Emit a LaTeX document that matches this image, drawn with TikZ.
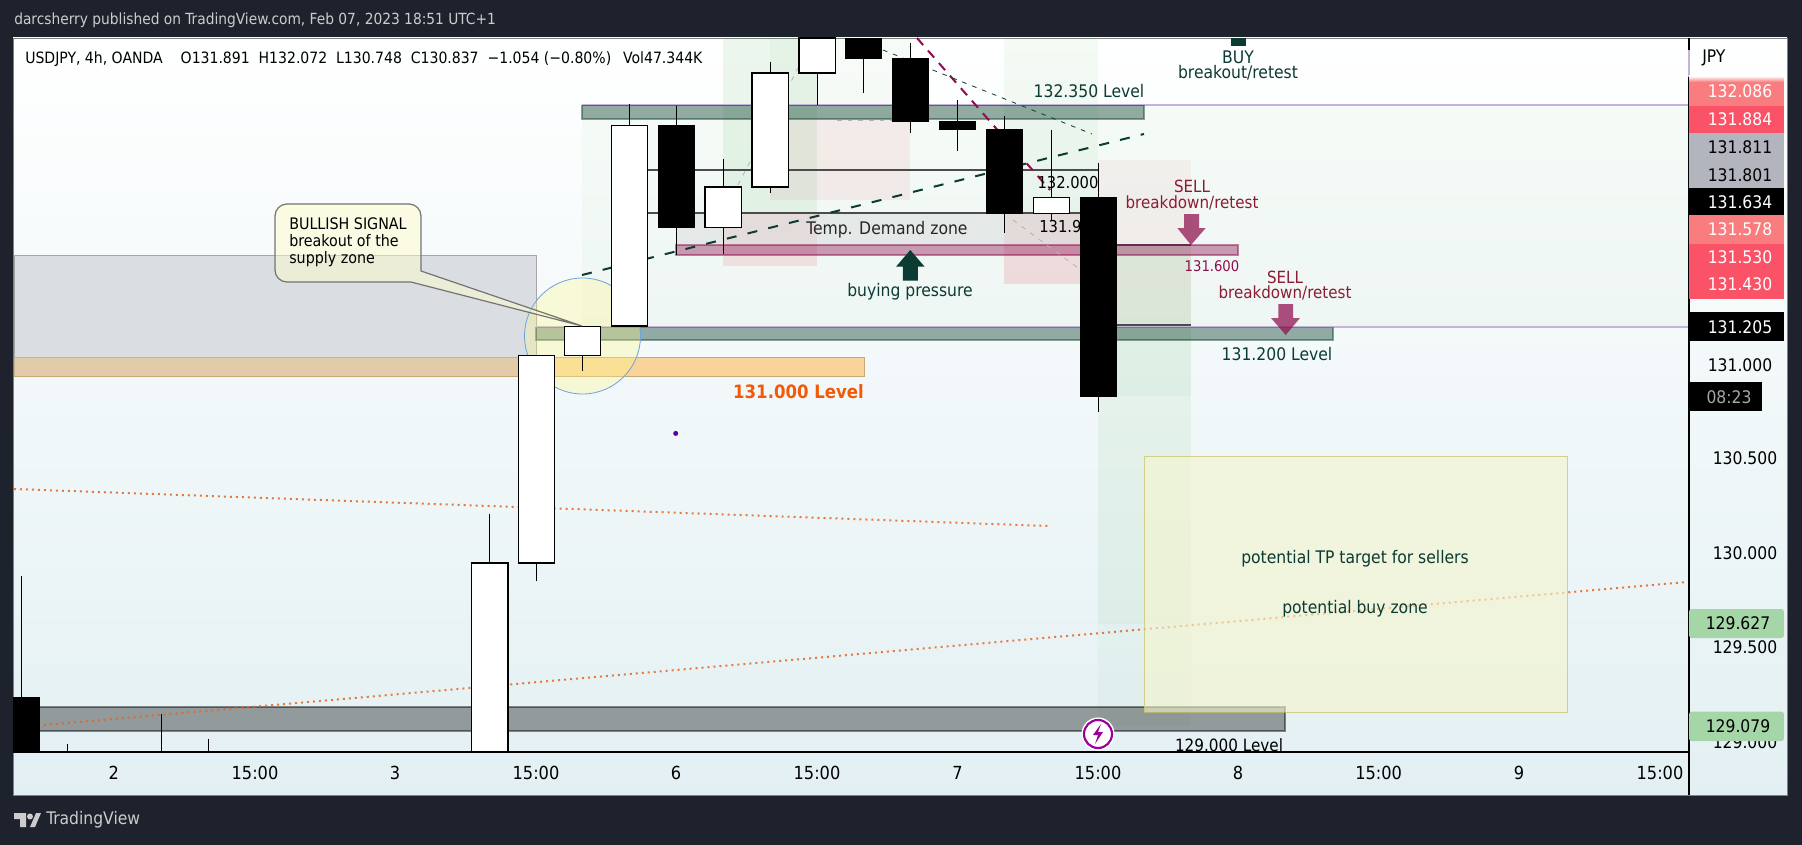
\documentclass[tikz,border=0pt]{standalone}
\usepackage[dvipsnames]{xcolor}
\usepackage{fontspec}
\setmainfont{DejaVu Sans Condensed}
\definecolor{frame}{HTML}{1E222D}
\definecolor{chartbg}{HTML}{E3F0F3}
\definecolor{teal}{HTML}{0B3B33}
\definecolor{wine}{HTML}{8E0E4E}
\definecolor{sellred}{HTML}{8C1C33}
\definecolor{tagred}{HTML}{FA5266}
\definecolor{tagrose}{HTML}{F97C7F}
\definecolor{taggrey}{HTML}{B2B5BE}
\definecolor{taggreen}{HTML}{A5D6A7}
\definecolor{bandteal}{HTML}{1A4A3A}
\definecolor{levelline}{HTML}{C5B3DE}
\definecolor{supply}{HTML}{DADEE3}
\definecolor{sand}{HTML}{F8D49A}
\definecolor{sandline}{HTML}{C9A876}
\definecolor{tpbox}{HTML}{F5F5CC}
\definecolor{dots}{HTML}{E8641E}
\definecolor{levelorange}{HTML}{F05A0A}
\definecolor{longgreen}{HTML}{4CAF50}
\definecolor{shortred}{HTML}{E04050}

\begin{document}
\begin{tikzpicture}[x=0.75pt,y=-0.75pt,
    price node/.style={inner sep=0pt,font=\fontsize{13}{15}\selectfont},
    time node/.style={inner sep=0pt,font=\fontsize{13.5}{15}\selectfont},
    level node/.style={inner sep=0pt,text=teal,font=\fontsize{13}{15}\selectfont},
    sell node/.style={inner sep=0pt,text=sellred,font=\fontsize{12.6}{15}\selectfont},
    buy zone/.style={fill=longgreen,opacity=0.1},
    risk zone/.style={fill=shortred,opacity=0.08},
    band/.style={fill=bandteal,fill opacity=0.45,draw=bandteal,draw opacity=0.5,line width=0.8pt},
    white candle/.style={fill=white,draw=black,line width=1.1pt},
    black candle/.style={fill=black},
    wick/.style={draw=black,line width=1pt},
    sell arrow/.style={fill=wine,opacity=0.72},
    dotted level/.style={draw=dots,opacity=0.85,line width=1.5pt,dash pattern=on 1.5pt off 3pt},
    trend/.style={draw=teal,line width=1.5pt,dash pattern=on 7.5pt off 8.5pt},
    thin trend/.style={line width=0.6pt,dash pattern=on 3.5pt off 4.5pt}]
    \useasboundingbox (0,0) rectangle (1802,845);
    \fill[frame] (0,0) rectangle (1802,845);
    \shade[top color=white,bottom color=chartbg] (13,38) rectangle (1787,795);
    \draw[gray,line width=0.7pt] (13,38) rectangle (1787,795);

    % position boxes
    \fill[longgreen,opacity=0.035] (582,105) rectangle (1689,327);
    \fill[buy zone] (723,38) rectangle (817,213);
    \fill[longgreen,opacity=0.04] (770,38) rectangle (910,119);
    \fill[risk zone] (770,119) rectangle (910,200);
    \fill[risk zone,opacity=0.13] (723,213) rectangle (817,266);
    \fill[buy zone,opacity=0.06] (1004,38) rectangle (1098,213);
    \fill[risk zone,opacity=0.15] (1004,213) rectangle (1098,284);
    \fill[risk zone,opacity=0.06] (1098,160) rectangle (1191,245);
    \fill[buy zone,opacity=0.12] (1098,245) rectangle (1191,396);
    \fill[risk zone,opacity=0.05] (1098,255) rectangle (1191,325);
    \fill[buy zone,opacity=0.08] (1098,396) rectangle (1191,624);
    \fill[buy zone,opacity=0.04] (1098,624) rectangle (1191,726);

    % zones
    \draw[fill=supply,draw=black!35] (14,255) rectangle (536,357);
    \draw[fill=sand,draw=sandline] (14,357) rectangle (864,376);
    \fill[black!25,opacity=0.4] (14,357) rectangle (536,376);
    \fill[black!15,opacity=0.5] (676,213) rectangle (1098,245);
    \draw[black!70,line width=2pt] (647,170) -- (1098,170);
    \draw[black!70,line width=2pt] (647,213) -- (1098,213);
    \draw[black!70,line width=1pt] (1117,245) -- (1191,245);
    \draw[black!70,line width=1pt] (1117,325) -- (1191,325);
    \draw[levelline,line width=1.2pt] (582,105) -- (1689,105);
    \draw[levelline,line width=1.2pt] (536,327) -- (1689,327);
    \draw[band] (536,327.5) rectangle (1333,340);
    \draw[band] (582,105.5) rectangle (1144,119);
    \path[fill=wine,fill opacity=0.4,draw=wine,draw opacity=0.5,line width=0.8pt] (676,245) rectangle (1238,255);
    \draw[fill=black,fill opacity=0.36,draw=black,draw opacity=0.45,line width=0.8pt] (14,707) rectangle (1285,731);
    \draw[fill=yellow!45!white,fill opacity=0.33,draw=cyan!60!blue!60,line width=0.6pt] (582.5,336) circle (58);

    % trend lines
    \draw[dotted level] (14,489) -- (1048,526);
    \draw[dotted level] (44,725) -- (1687,582);
    \draw[fill=tpbox,fill opacity=0.6,draw=olive!50!white,draw opacity=0.7,line width=0.7pt] (1144,456) rectangle (1567,712);
    \draw[trend] (582,275) -- (1144,134);
    \draw[wine,line width=1.5pt,dash pattern=on 7pt off 5.5pt] (917,38) -- (1050,190);
    \draw[thin trend,teal] (883,50) -- (1092,134);
    \draw[thin trend,black!30] (738,185) -- (798,68);
    \draw[thin trend,black!30] (837,120) -- (892,120);
    \draw[thin trend,black!30] (1013,220) -- (1078,268);

    % levels and notes under the candles
    \node[level node] (high) at (1089,91) {132.350 Level};
    \node[inner sep=0pt,font=\fontsize{12.3}{15}\selectfont] (tp) at (1068,183) {132.000};
    \node[inner sep=0pt,anchor=west,font=\fontsize{12.3}{15}\selectfont] (sl) at (1039,226.7) {131.900};
    \node[inner sep=0pt,text=black!85,font=\fontsize{13}{15}\selectfont] (demand) at (887,230) {Temp. Demand zone};

    % candles
    \draw[wick] (21.4,576) -- (21.4,697);
    \fill[black candle] (13,697) rectangle (40,752);
    \draw[wick] (67.4,744) -- (67.4,752);
    \draw[wick] (161.5,714) -- (161.5,752);
    \draw[wick] (208.6,739) -- (208.6,752);
    \draw[wick] (489.7,514) -- (489.7,563);
    \draw[white candle] (471.5,563) rectangle (507.8,752);
    \draw[wick] (536.4,563) -- (536.4,581);
    \draw[white candle] (518.4,355.3) rectangle (554.3,563);
    \draw[wick] (582.5,355) -- (582.5,371);
    \draw[white candle] (564.5,326.5) rectangle (600.4,355.3);
    \draw[wick] (629.5,104) -- (629.5,125);
    \draw[white candle] (611.3,125.3) rectangle (647.3,326);
    \draw[wick] (676.5,106) -- (676.5,255);
    \fill[black candle] (658,125) rectangle (695,227.7);
    \draw[wick] (723.5,159) -- (723.5,254);
    \draw[white candle] (705,187) rectangle (741.7,227.7);
    \draw[wick] (770.5,62) -- (770.5,192.7);
    \draw[white candle] (752,73) rectangle (788.7,187);
    \draw[wick] (817.5,73) -- (817.5,105);
    \draw[white candle] (799,38) rectangle (835.7,73);
    \draw[wick] (863.5,58) -- (863.5,92.7);
    \fill[black candle] (845,38) rectangle (881.7,58.7);
    \draw[wick] (910.5,43) -- (910.5,132.7);
    \fill[black candle] (892,58) rectangle (929,121.7);
    \draw[wick] (957.5,100) -- (957.5,150.7);
    \fill[black candle] (939,121) rectangle (976,129.7);
    \draw[wick] (1004.5,116) -- (1004.5,233);
    \fill[black candle] (986,129) rectangle (1023,213.7);
    \draw[wick] (1051.5,130) -- (1051.5,220);
    \draw[white candle] (1033.3,197.3) rectangle (1069.7,213.7);
    \draw[wick] (1098.5,163) -- (1098.5,411.7);
    \fill[black candle] (1080,197) rectangle (1117,396.7);

    % arrows
    \fill[teal] (910.3,250) -- (924.6,266.7) -- (917.8,266.7) -- (917.8,280.7) -- (902.8,280.7) -- (902.8,266.7) -- (896,266.7) -- cycle;
    \fill[teal] (1231,38) rectangle (1246,46);
    \fill[sell arrow] (1191,245) -- (1205.7,228) -- (1199,228) -- (1199,214) -- (1184,214) -- (1184,228) -- (1177.3,228) -- cycle;
    \fill[sell arrow] (1285.7,335) -- (1300,318) -- (1293,318) -- (1293,304) -- (1278.3,304) -- (1278.3,318) -- (1271,318) -- cycle;

    % callout
    \draw[fill=yellow!20!white,fill opacity=0.5,draw=black!55,line width=0.9pt] (411,282) [rounded corners=9] -- (275,282) -- (275,204) -- (421,204) -- (421,230) [sharp corners] -- (421,271) -- (582,326) -- cycle;
    \node[anchor=north west,inner sep=0pt,align=left,font=\fontsize{11.9}{12.7}\selectfont] (signal) at (289,217.5) {BULLISH SIGNAL\\breakout of the\\supply zone};

    % texts
    \node[inner sep=0pt,text=black!20,font=\fontsize{11.5}{14}\selectfont,anchor=west] (title) at (14,20.5) {darcsherry published on TradingView.com, Feb 07, 2023 18:51 UTC+1};
    \node[inner sep=0pt,font=\fontsize{11.7}{14}\selectfont,anchor=west] (legend) at (25,59) {USDJPY, 4h, OANDA\hspace{13.5pt}O131.891\ \ H132.072\ \ L130.748\ \ C130.837\ \ −1.054 (−0.80\%)\hspace{9pt}Vol47.344K};
    \node[level node] (buy) at (1238,57.5) {BUY};
    \node[level node] (buyretest) at (1238,73) {breakout/retest};
    \node[sell node] (sell) at (1192,186.7) {SELL};
    \node[sell node] (sellretest) at (1192,203) {breakdown/retest};
    \node[sell node] (sellb) at (1285,277) {SELL};
    \node[sell node] (sellretestb) at (1285,293) {breakdown/retest};
    \node[inner sep=0pt,text=wine,font=\fontsize{11}{13}\selectfont] (pink) at (1212,266) {131.600};
    \node[level node] (mid) at (1277,354) {131.200 Level};
    \node[level node] (pressure) at (910,291.3) {buying pressure};
    \node[inner sep=0pt,text=levelorange,font=\fontsize{13.8}{17}\selectfont\bfseries] (orangelevel) at (798.5,392) {131.000 Level};
    \node[level node] (target) at (1355,558.5) {potential TP target for sellers};
    \node[level node] (buyzone) at (1355,609) {potential buy zone};
    \node[inner sep=0pt,font=\fontsize{12.7}{15}\selectfont] (low) at (1229,745) {129.000 Level};
    \fill[violet!70!blue] (675.7,433.4) circle (2.5);

    % bolt
    \draw[fill=white,draw=white,line width=0.8pt] (1098,734) circle (16);
    \draw[fill=white,draw=violet!80!magenta,line width=1.6pt] (1098,734) circle (14);
    \fill[violet!80!magenta] (1101,724) -- (1093,735) -- (1098,735) -- (1095,744) -- (1103,732) -- (1098,732) -- cycle;

    % axes
    \draw[black,line width=1pt] (13,752) -- (1689,752);
    \draw[black,line width=1pt] (1689,38) -- (1689,795);
    \draw[levelline,line width=1pt] (1689,50) -- (1689,77);

    % price tags
    \node[price node,anchor=west] (jpy) at (1702,58.3) {JPY};
    \fill[tagrose] (1689,82) rectangle (1784,106);
    \shade[top color=white,bottom color=tagrose] (1689,76) rectangle (1784,82);
    \fill[tagred] (1689,106) rectangle (1784,133.3);
    \fill[taggrey] (1689,133.3) rectangle (1784,187.7);
    \fill[black] (1689,187.7) rectangle (1784,215);
    \fill[tagrose] (1689,215) rectangle (1784,244);
    \fill[tagred] (1689,244) rectangle (1784,298.7);
    \fill[black] (1689,312.3) rectangle (1784,340.7);
    \fill[black] (1689,382) rectangle (1762,410.7);
    \node[price node,text=white] (p1) at (1740,91.3) {132.086};
    \node[price node,text=white] (p2) at (1740,119.3) {131.884};
    \node[price node] (p3) at (1740,147.3) {131.811};
    \node[price node] (p4) at (1740,174.7) {131.801};
    \node[price node,text=white] (p5) at (1740,202.3) {131.634};
    \node[price node,text=white] (p6) at (1740,229.3) {131.578};
    \node[price node,text=white] (p7) at (1740,257.3) {131.530};
    \node[price node,text=white] (p8) at (1740,284.3) {131.430};
    \node[price node,text=white] (p9) at (1740,326.7) {131.205};
    \node[price node] (p10) at (1740,365) {131.000};
    \node[price node,text=black!35] (clock) at (1729,396.7) {08:23};
    \node[price node] (p11) at (1745,458.5) {130.500};
    \node[price node] (p12) at (1745,552.8) {130.000};
    \node[price node] (p13) at (1745,647) {129.500};
    \node[price node] (p14) at (1745,742) {129.000};
    \fill[taggreen,rounded corners=2] (1689,609) rectangle (1784,638);
    \fill[taggreen,rounded corners=2] (1689,711.7) rectangle (1784,741);
    \node[price node] (p15) at (1738,623.5) {129.627};
    \node[price node] (p16) at (1738,726) {129.079};

    % time axis
    \node[time node] (t1) at (113.7,773) {2};
    \node[time node] (t2) at (255,773) {15:00};
    \node[time node] (t3) at (395,773) {3};
    \node[time node] (t4) at (536,773) {15:00};
    \node[time node] (t5) at (676,773) {6};
    \node[time node] (t6) at (817,773) {15:00};
    \node[time node] (t7) at (957.5,773) {7};
    \node[time node] (t8) at (1098,773) {15:00};
    \node[time node] (t9) at (1238,773) {8};
    \node[time node] (t10) at (1378.7,773) {15:00};
    \node[time node] (t11) at (1519,773) {9};
    \node[time node] (t12) at (1660,773) {15:00};

    % logo
    \fill[black!20] (14,813) -- (26,813) -- (26,827) -- (20,827) -- (20,819) -- (14,819) -- cycle;
    \fill[black!20] (30,816.5) circle (3);
    \fill[black!20] (30,827) -- (36,813) -- (41,813) -- (35,827) -- cycle;
    \node[inner sep=0pt,anchor=west,text=black!20,font=\fontsize{13}{15}\selectfont] (brand) at (46,820) {TradingView};
\end{tikzpicture}
\end{document}
